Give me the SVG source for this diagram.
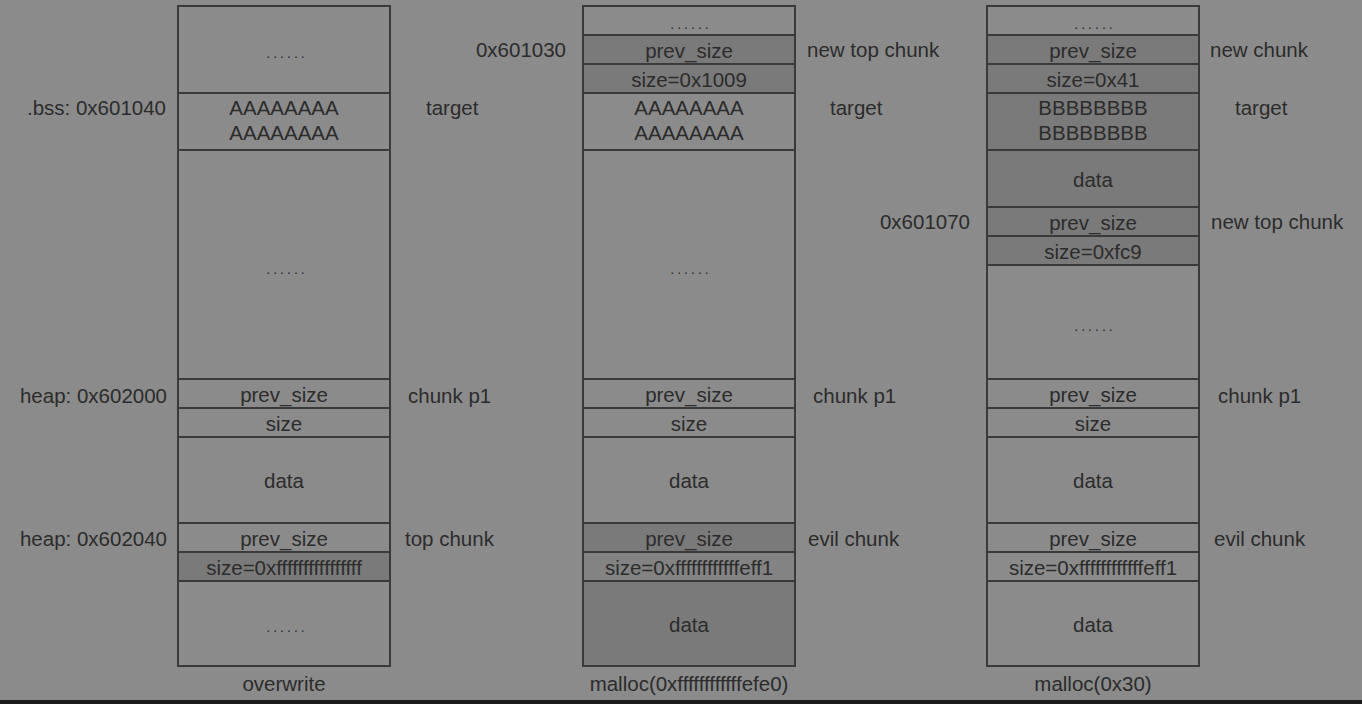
<svg xmlns="http://www.w3.org/2000/svg" width="1362" height="704" viewBox="0 0 1362 704">
<style>
.bg{fill:#8b8b8b}
.cell{fill:#8b8b8b;stroke:#3a3a3a;stroke-width:2}
.dk{fill:#7a7a7a}
.md{fill:#838383}
text{font-family:"Liberation Sans",Arial,sans-serif;font-size:20.5px;fill:#2c2c2c;dominant-baseline:central}
.c{text-anchor:middle}
.e{text-anchor:end}
.dots{font-size:14px;letter-spacing:3px;text-anchor:middle;dominant-baseline:auto}
</style>
<rect class="bg" x="0" y="0" width="1362" height="704"/>
<rect x="0" y="700" width="1362" height="4" fill="#1c1c1c"/>

<!-- Column 1: overwrite -->
<g id="col1">
  <g id="c1-r1"><rect class="cell" x="178" y="6" width="212" height="87"/><text class="dots" x="287" y="58">......</text></g>
  <g id="c1-target"><rect class="cell" x="178" y="93" width="212" height="57"/><text class="c" x="284" y="107">AAAAAAAA</text><text class="c" x="284" y="132">AAAAAAAA</text></g>
  <g id="c1-gap"><rect class="cell" x="178" y="150" width="212" height="229"/><text class="dots" x="287" y="274">......</text></g>
  <g id="c1-p1-prev"><rect class="cell" x="178" y="379" width="212" height="29"/><text class="c" x="284" y="394">prev_size</text></g>
  <g id="c1-p1-size"><rect class="cell" x="178" y="408" width="212" height="29"/><text class="c" x="284" y="423">size</text></g>
  <g id="c1-p1-data"><rect class="cell" x="178" y="437" width="212" height="86"/><text class="c" x="284" y="480">data</text></g>
  <g id="c1-top-prev"><rect class="cell" x="178" y="523" width="212" height="29"/><text class="c" x="284" y="538">prev_size</text></g>
  <g id="c1-top-size"><rect class="cell dk" x="178" y="552" width="212" height="29"/><text class="c" x="284" y="567">size=0xffffffffffffffff</text></g>
  <g id="c1-end"><rect class="cell" x="178" y="581" width="212" height="85"/><text class="dots" x="287" y="632">......</text></g>
  <text class="e" x="166" y="107">.bss: 0x601040</text>
  <text class="e" x="167" y="395">heap: 0x602000</text>
  <text class="e" x="167" y="538">heap: 0x602040</text>
  <text x="426" y="107">target</text>
  <text x="408" y="395">chunk p1</text>
  <text x="405" y="538">top chunk</text>
  <text class="c" x="284" y="683">overwrite</text>
</g>

<!-- Column 2: malloc(0xffffffffffffefe0) -->
<g id="col2">
  <g id="c2-r1"><rect class="cell" x="583" y="6" width="212" height="29"/><text class="dots" x="691" y="29">......</text></g>
  <g id="c2-ntop-prev"><rect class="cell dk" x="583" y="35" width="212" height="29"/><text class="c" x="689" y="50">prev_size</text></g>
  <g id="c2-ntop-size"><rect class="cell dk" x="583" y="64" width="212" height="29"/><text class="c" x="689" y="79">size=0x1009</text></g>
  <g id="c2-target"><rect class="cell" x="583" y="93" width="212" height="57"/><text class="c" x="689" y="107">AAAAAAAA</text><text class="c" x="689" y="132">AAAAAAAA</text></g>
  <g id="c2-gap"><rect class="cell" x="583" y="150" width="212" height="229"/><text class="dots" x="691" y="274">......</text></g>
  <g id="c2-p1-prev"><rect class="cell" x="583" y="379" width="212" height="29"/><text class="c" x="689" y="394">prev_size</text></g>
  <g id="c2-p1-size"><rect class="cell" x="583" y="408" width="212" height="29"/><text class="c" x="689" y="423">size</text></g>
  <g id="c2-p1-data"><rect class="cell" x="583" y="437" width="212" height="86"/><text class="c" x="689" y="480">data</text></g>
  <g id="c2-evil-prev"><rect class="cell dk" x="583" y="523" width="212" height="29"/><text class="c" x="689" y="538">prev_size</text></g>
  <g id="c2-evil-size"><rect class="cell md" x="583" y="552" width="212" height="29"/><text class="c" x="689" y="567">size=0xffffffffffffeff1</text></g>
  <g id="c2-evil-data"><rect class="cell dk" x="583" y="581" width="212" height="85"/><text class="c" x="689" y="624">data</text></g>
  <text class="e" x="566" y="49">0x601030</text>
  <text x="807" y="49">new top chunk</text>
  <text x="830" y="107">target</text>
  <text x="813" y="395">chunk p1</text>
  <text x="808" y="538">evil chunk</text>
  <text class="c" x="689" y="683">malloc(0xffffffffffffefe0)</text>
</g>

<!-- Column 3: malloc(0x30) -->
<g id="col3">
  <g id="c3-r1"><rect class="cell" x="987" y="6" width="212" height="29"/><text class="dots" x="1095" y="29">......</text></g>
  <g id="c3-new-prev"><rect class="cell dk" x="987" y="35" width="212" height="29"/><text class="c" x="1093" y="50">prev_size</text></g>
  <g id="c3-new-size"><rect class="cell dk" x="987" y="64" width="212" height="29"/><text class="c" x="1093" y="79">size=0x41</text></g>
  <g id="c3-target"><rect class="cell dk" x="987" y="93" width="212" height="57"/><text class="c" x="1093" y="107">BBBBBBBB</text><text class="c" x="1093" y="132">BBBBBBBB</text></g>
  <g id="c3-new-data"><rect class="cell dk" x="987" y="150" width="212" height="57"/><text class="c" x="1093" y="179">data</text></g>
  <g id="c3-ntop-prev"><rect class="cell dk" x="987" y="207" width="212" height="29"/><text class="c" x="1093" y="222">prev_size</text></g>
  <g id="c3-ntop-size"><rect class="cell dk" x="987" y="236" width="212" height="29"/><text class="c" x="1093" y="251">size=0xfc9</text></g>
  <g id="c3-gap"><rect class="cell" x="987" y="265" width="212" height="114"/><text class="dots" x="1095" y="331">......</text></g>
  <g id="c3-p1-prev"><rect class="cell" x="987" y="379" width="212" height="29"/><text class="c" x="1093" y="394">prev_size</text></g>
  <g id="c3-p1-size"><rect class="cell" x="987" y="408" width="212" height="29"/><text class="c" x="1093" y="423">size</text></g>
  <g id="c3-p1-data"><rect class="cell" x="987" y="437" width="212" height="86"/><text class="c" x="1093" y="480">data</text></g>
  <g id="c3-evil-prev"><rect class="cell" x="987" y="523" width="212" height="29"/><text class="c" x="1093" y="538">prev_size</text></g>
  <g id="c3-evil-size"><rect class="cell" x="987" y="552" width="212" height="29"/><text class="c" x="1093" y="567">size=0xffffffffffffeff1</text></g>
  <g id="c3-evil-data"><rect class="cell" x="987" y="581" width="212" height="85"/><text class="c" x="1093" y="624">data</text></g>
  <text class="e" x="970" y="221">0x601070</text>
  <text x="1210" y="49">new chunk</text>
  <text x="1235" y="107">target</text>
  <text x="1211" y="221">new top chunk</text>
  <text x="1218" y="395">chunk p1</text>
  <text x="1214" y="538">evil chunk</text>
  <text class="c" x="1093" y="683">malloc(0x30)</text>
</g>
<g id="connectors"/>
</svg>
